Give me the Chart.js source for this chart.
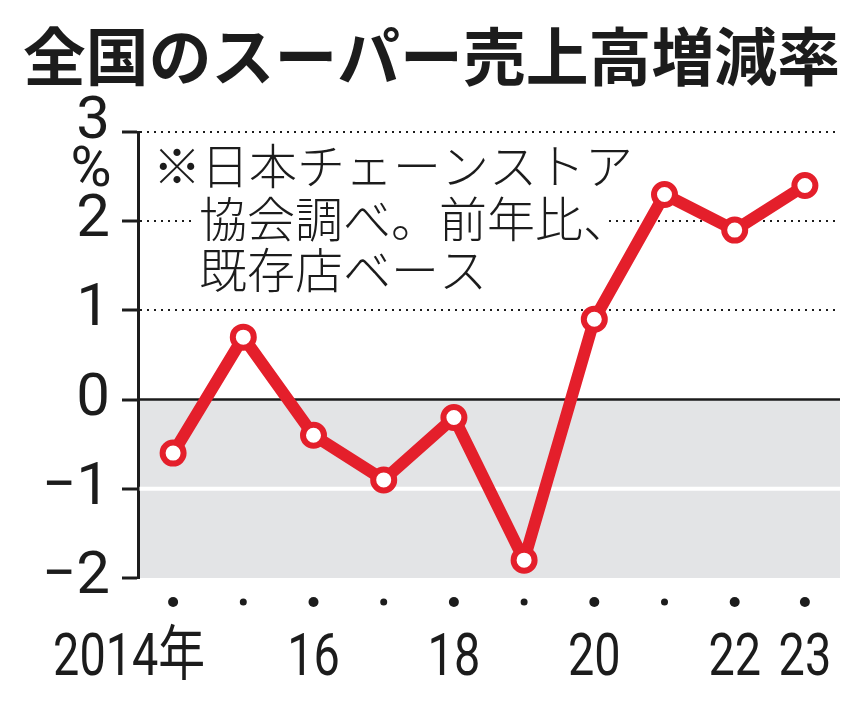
<!DOCTYPE html>
<html lang="ja">
<head>
<meta charset="utf-8">
<script src="https://cdn.jsdelivr.net/npm/chart.js@4.4.1/dist/chart.umd.min.js"></script>
<style>
  html, body { margin: 0; padding: 0; background: #ffffff; }
  #wrap { width: 865px; height: 702px; }
</style>
</head>
<body>
<div id="wrap"><canvas id="c" width="865" height="702"></canvas></div>
<script>
// ---- data ----
const titleText = '全国のスーパー売上高増減率';
const years = ['2014','2015','2016','2017','2018','2019','2020','2021','2022','2023'];
const xTickLabels = ['2014年','','16','','18','','20','','22','23'];
const values = [-0.6, 0.7, -0.4, -0.9, -0.2, -1.8, 0.9, 2.3, 1.9, 2.4];
const yTickValues = [3, 2, 1, 0, -1, -2];
const yTickLabels = ['3', '2', '1', '0', '−1', '−2'];
const unitLabel = '%';
const noteLines = ['※日本チェーンストア', '協会調べ。前年比、', '既存店ベース'];

const RED = '#e41f2b';
const INK = '#1c1c1c';
const GRAY = '#e3e4e6';

const decor = {
  id: 'decor',
  beforeDraw(chart) {
    const {ctx, chartArea: a, scales: {y}} = chart;
    const y0 = y.getPixelForValue(0);
    const yb = y.getPixelForValue(-2);
    ctx.save();
    ctx.fillStyle = GRAY;
    ctx.fillRect(a.left, y0, a.right - a.left, yb - y0);
    ctx.restore();
  },
  beforeDatasetsDraw(chart) {
    const {ctx, chartArea: a, scales: {x, y}} = chart;
    ctx.save();
    // white line at -1
    const ym1 = y.getPixelForValue(-1);
    ctx.strokeStyle = '#ffffff';
    ctx.lineWidth = 4;
    ctx.beginPath(); ctx.moveTo(a.left + 1.5, ym1); ctx.lineTo(a.right, ym1); ctx.stroke();
    // zero line
    const y0 = y.getPixelForValue(0);
    ctx.strokeStyle = INK;
    ctx.lineWidth = 2.5;
    ctx.beginPath(); ctx.moveTo(a.left, y0); ctx.lineTo(a.right, y0); ctx.stroke();
    // note
    const y2 = y.getPixelForValue(2);
    ctx.fillStyle = '#ffffff';
    ctx.fillRect(192, y2 - 14, 415, 28);
    ctx.fillStyle = INK;
    ctx.font = '300 48px "Noto Sans CJK JP Light", "Noto Sans CJK JP DemiLight", "Noto Sans CJK JP"';
    ctx.textBaseline = 'middle';
    ctx.textAlign = 'left';
    ctx.fillText(noteLines[0], 153, 166);
    ctx.fillText(noteLines[1], 199, 219);
    ctx.fillText(noteLines[2], 199, 270);
    // unit
    ctx.font = '56px Roboto';
    ctx.textAlign = 'center';
    ctx.fillText(unitLabel, 91, 172);
    // x dots and condensed x labels
    const dotY = y.bottom + 24;
    ctx.font = '60px Roboto, "Noto Sans CJK JP"';
    ctx.textBaseline = 'alphabetic';
    years.forEach((yr, i) => {
      const px = x.getPixelForValue(i);
      ctx.beginPath();
      ctx.arc(px, dotY, xTickLabels[i] ? 5 : 3.5, 0, Math.PI * 2);
      ctx.fill();
      const lab = xTickLabels[i];
      if (lab) {
        ctx.save();
        const anchorRight = lab.endsWith('年');
        ctx.translate(anchorRight ? px + 32 : px, 675);
        ctx.scale(0.78, 1);
        ctx.textAlign = anchorRight ? 'right' : 'center';
        ctx.fillText(lab, 0, 0);
        ctx.restore();
      }
    });
    ctx.restore();
  }
};

new Chart(document.getElementById('c'), {
  type: 'line',
  data: {
    labels: years,
    datasets: [{
      data: values,
      borderColor: RED,
      borderWidth: 12,
      borderJoinStyle: 'round',
      borderCapStyle: 'round',
      pointRadius: 10.5,
      pointHoverRadius: 10.5,
      pointBorderWidth: 6,
      pointBackgroundColor: '#ffffff',
      pointBorderColor: RED,
      tension: 0,
      clip: false
    }]
  },
  options: {
    responsive: false,
    animation: false,
    devicePixelRatio: 1,
    events: [],
    layout: { padding: { left: 23, right: 25, top: 0, bottom: 0 } },
    plugins: {
      legend: { display: false },
      tooltip: { enabled: false },
      title: {
        display: true,
        text: titleText,
        align: 'start',
        color: INK,
        font: { family: '"Noto Sans CJK JP"', size: 63, weight: 'bold', lineHeight: 1.2 },
        padding: { top: 18, bottom: 38.4 }
      }
    },
    scales: {
      x: {
        type: 'category',
        offset: true,
        grid: { display: false, drawTicks: false },
        border: { display: false },
        ticks: {
          display: false,
          autoSkip: false,
          maxRotation: 0,
          callback: (v, i) => xTickLabels[i]
        },
        afterFit: s => { s.height = 124; s.paddingLeft = 0; s.paddingRight = 0; }
      },
      y: {
        min: -2,
        max: 3,
        afterBuildTicks: s => { s.ticks = yTickValues.map(v => ({ value: v })); },
        grid: {
          color: c => (c.tick && c.tick.value > 0) ? INK : 'rgba(0,0,0,0)',
          lineWidth: 2,
          tickColor: INK,
          tickWidth: 3,
          tickLength: 16,
          tickBorderDash: []
        },
        border: { display: true, color: INK, width: 3, dash: [2, 5] },
        ticks: {
          padding: 12,
          color: INK,
          font: c => ({ family: 'Roboto', size: 60, lineHeight: (c.tick && c.tick.value === 3) ? 0.3 : 1.2 }),
          callback: v => {
            const lab = yTickLabels[yTickValues.indexOf(v)];
            return v === 3 ? [lab, ''] : lab;
          }
        },
        afterFit: s => { s.width = 115; }
      }
    }
  },
  plugins: [decor]
});
</script>
</body>
</html>
